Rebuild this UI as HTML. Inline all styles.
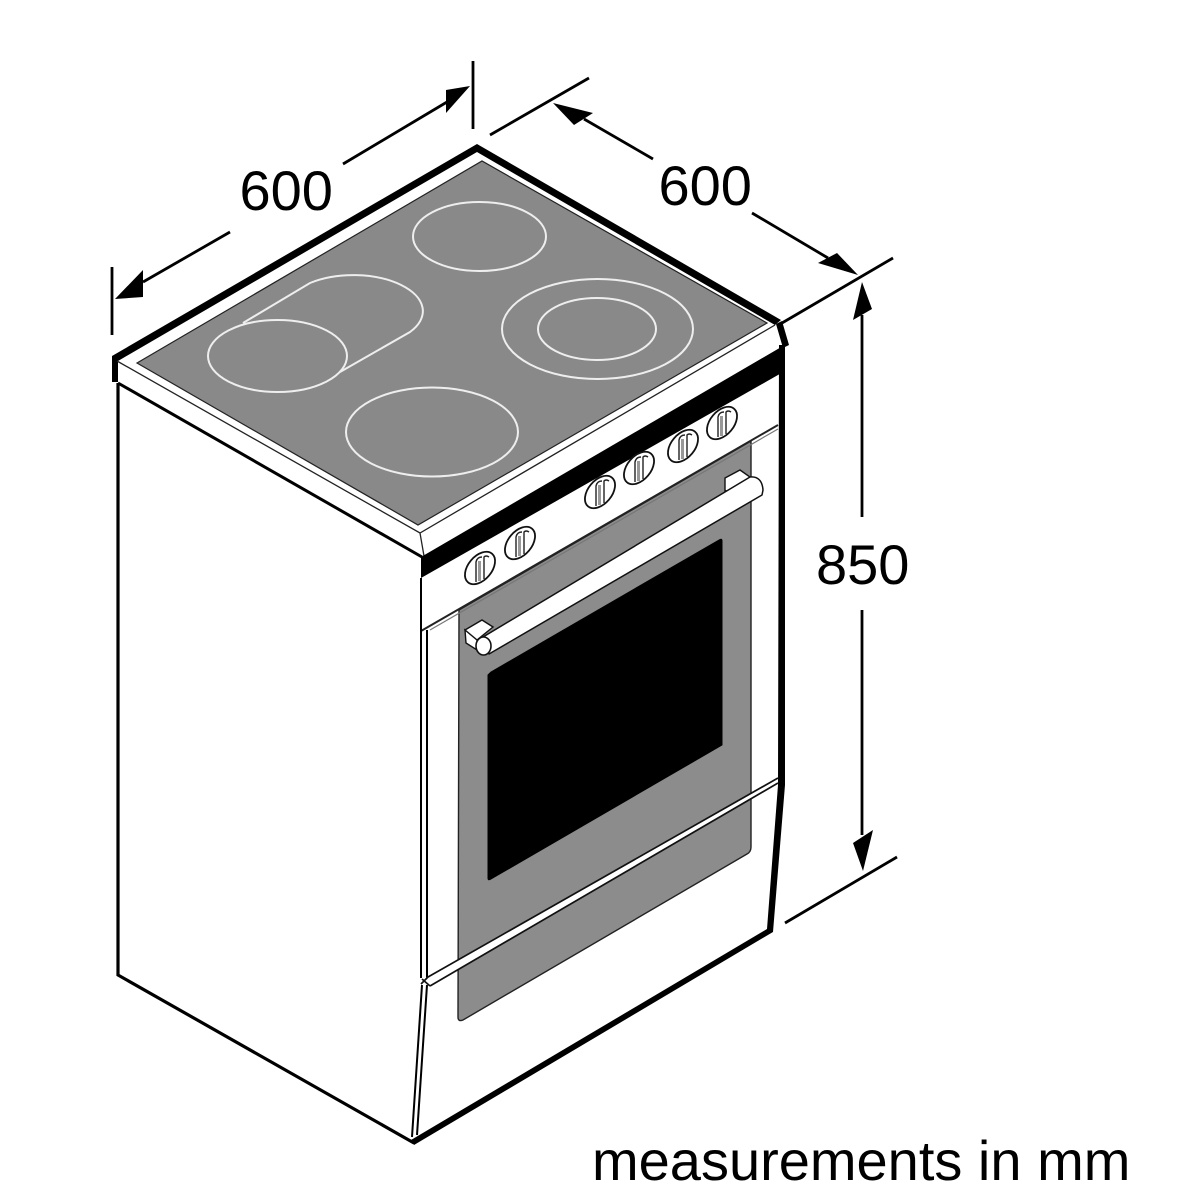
<!DOCTYPE html>
<html><head><meta charset="utf-8"><style>
html,body{margin:0;padding:0;background:#fff}
svg{display:block}
text{font-family:"Liberation Sans",sans-serif;font-size:56px;fill:#000}
</style></head><body>
<svg width="1200" height="1200" viewBox="0 0 1200 1200" xmlns="http://www.w3.org/2000/svg">
<defs>
<g id="k">
<ellipse cx="0" cy="0" rx="18.7" ry="11.8" transform="rotate(-50)" fill="#fff" stroke="#111" stroke-width="1.8"/>
<path d="M-0.5,13 V-7" fill="none" stroke="#999" stroke-width="3"/>
<path d="M-4,14 V-6 Q-3,-11 2,-11 M4,11 V-11 Q6,-13 9,-11" fill="none" stroke="#222" stroke-width="1.4"/>
</g>
</defs>

<!-- cooktop glass -->
<polygon points="137,363 482,161 767,323 418,525" fill="#898989" stroke="#222" stroke-width="1.2"/>
<g fill="none" stroke="#eee" stroke-width="2">
<ellipse cx="479.5" cy="236.5" rx="66.5" ry="34.5"/>
<ellipse cx="597.5" cy="329" rx="95.5" ry="50"/>
<ellipse cx="597" cy="329" rx="59" ry="31"/>
<ellipse cx="432" cy="432" rx="86" ry="44.5"/>
<ellipse cx="277.5" cy="356" rx="69.5" ry="36"/>
<path d="M243,323 L310,283 A69.5,36 0 0 1 410,332 L340,372"/>
</g>

<!-- rim -->
<polygon points="112,382 112,356 477,144 781,320 775,325 477,152 118,361 118,382" fill="#000"/>
<polygon points="776,324 782,321 789,345 783,348" fill="#000"/>
<path d="M117,361 L420,533 L775,325 M420,533 L424,556" fill="none" stroke="#222" stroke-width="1.3"/>
<path d="M118,383 L422,557" fill="none" stroke="#000" stroke-width="3"/>

<!-- black band -->
<polygon points="421,557 783,346 785,371 421,578" fill="#000"/>

<!-- body -->
<path d="M118,383 V975 L414,1143" fill="none" stroke="#000" stroke-width="3.2"/>
<polygon points="779,345 785,345 785,785 773,932 414,1145 411,1140 767,929 778,785" fill="#000"/>

<!-- door -->
<path d="M459,610 L751,441 V847 Q751,852 747,854 L463,1020 Q458,1022 458,1017 Z" fill="#8c8c8c" stroke="#222" stroke-width="1.4"/>
<path d="M491,672 L719,540 Q722,538 722,541 V745 L491,879 Q488,881 488,878 V675 Z" fill="#000" stroke="#000" stroke-width="1"/>

<!-- panel edge -->
<path d="M421,631 L778,425" fill="none" stroke="#222" stroke-width="2"/>
<path d="M430,630 L778,429" fill="none" stroke="#777" stroke-width="1.2"/>

<!-- left edge doubles -->
<path d="M421,578 V978 M427,630 V978" fill="none" stroke="#000" stroke-width="2"/>
<path d="M422,985 L412,1137 M427,985 L417,1135" fill="none" stroke="#000" stroke-width="2"/>

<!-- lower bar -->
<polygon points="422,979 428,977 778,778 778,783 430,986" fill="#fff"/>
<path d="M428,977 L778,778 M430,986 L778,783 M422,979 L430,986 M421,984 L428,977" fill="none" stroke="#111" stroke-width="1.7"/>

<!-- knobs -->
<use href="#k" x="480" y="568"/>
<use href="#k" x="520" y="543"/>
<use href="#k" x="600" y="492"/>
<use href="#k" x="639" y="468"/>
<use href="#k" x="683" y="446"/>
<use href="#k" x="722" y="423"/>

<!-- handle -->
<path d="M725,478 L740,470 L750,477 L735,490 L725,491 Z" fill="#fff" stroke="#111" stroke-width="1.4"/>
<path d="M465,630 L482,620 L493,627 L477,640 Z M465,630 L466,643 L477,650 L477,640 Z" fill="#fff" stroke="#111" stroke-width="1.4"/>
<path d="M483,637 L750,477 Q762,476 763,490 L762,495 L489,654 Z" fill="#fff" stroke="#111" stroke-width="1.5" stroke-linejoin="round"/>
<ellipse cx="483.5" cy="646" rx="7.5" ry="9" fill="#fff" stroke="#111" stroke-width="1.6"/>

<!-- dimensions -->
<g fill="none" stroke="#000" stroke-width="2.8">
<path d="M112,267 V335"/>
<path d="M143,282 L230,232"/>
<path d="M343,164 L447,102"/>
<path d="M473,61 V129"/>
<path d="M490,135 L589,78"/>
<path d="M584,119 L653,159"/>
<path d="M752,213 L828,258"/>
<path d="M782,323 L893,258"/>
<path d="M862,315 V517"/>
<path d="M862,610 V835"/>
<path d="M785,923 L897,857"/>
</g>
<polygon points="115,299 143,270 143,297" fill="#000"/>
<polygon points="470,86 446,90 446,113" fill="#000"/>
<polygon points="553,103 593,113 574,125" fill="#000"/>
<polygon points="858,275 818,263 837,253" fill="#000"/>
<polygon points="862,282 853,320 872,309" fill="#000"/>
<polygon points="863,871 853,843 873,830" fill="#000"/>

<!-- labels -->
<text x="239.5" y="210">600</text>
<text x="658.5" y="205">600</text>
<text x="816" y="584">850</text>
<text x="592" y="1180">measurements in mm</text>
</svg>
</body></html>
